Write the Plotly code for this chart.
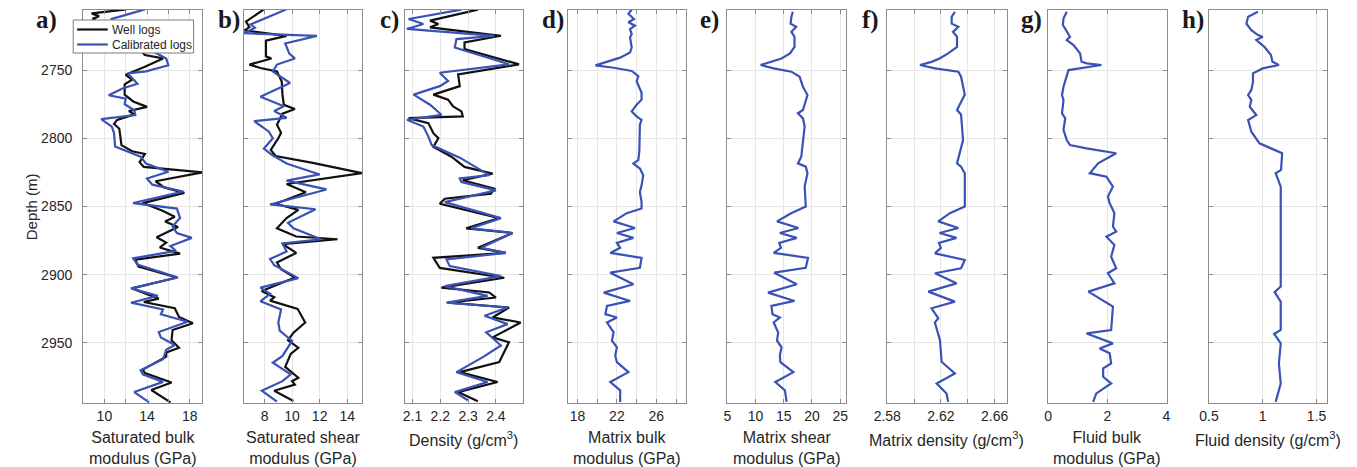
import plotly.graph_objects as go

# ---------------- Log data (depth in m) ----------------
# a) Saturated bulk modulus (GPa)
sat_bulk_well_depth = [2705.5, 2708.5, 2710.5, 2712.5, 2718, 2725, 2732, 2739, 2741.5, 2747.5, 2753.5, 2757,
                       2760.5, 2768, 2773, 2777, 2780, 2782.5, 2786.5, 2789.5, 2793, 2799, 2805, 2809.5,
                       2811.5, 2817.5, 2821, 2825, 2831.5, 2836, 2840, 2847.5, 2853, 2857.5, 2861, 2865,
                       2872.5, 2876.5, 2880, 2884.5, 2889, 2894, 2898, 2902, 2910, 2916, 2917.5, 2920,
                       2924.5, 2931, 2935.5, 2940.5, 2948, 2953.5, 2957, 2960, 2969.5, 2972, 2979,
                       2984.5, 2993.5]
sat_bulk_well = [12.1, 8.8, 9.5, 8.9, 10.0, 11.5, 13.0, 13.8, 15.5, 13.8, 12.0, 12.6,
                 11.9, 11.9, 12.7, 14.0, 12.3, 12.8, 11.2, 10.9, 11.4, 11.5, 11.6, 12.6,
                 13.8, 13.3, 13.7, 19.2, 14.8, 15.6, 17.5, 13.6, 15.4, 16.6, 15.7, 16.9,
                 14.9, 15.8, 15.2, 17.1, 12.9, 13.2, 15.0, 16.8, 12.6, 14.7, 15.1, 13.7,
                 16.6, 17.0, 18.3, 16.4, 16.3, 17.0, 15.8, 15.8, 13.6, 13.8, 16.3,
                 14.4, 16.2]
sat_bulk_cal_depth = [2705.5, 2712.5, 2720, 2728, 2736, 2741.5, 2746.5, 2751, 2752.5, 2760, 2763.5, 2768.5,
                      2771, 2775, 2779.5, 2783, 2786, 2791.5, 2796, 2806, 2813.5, 2818.5, 2824.5, 2829.5,
                      2834, 2839, 2847.5, 2851.5, 2858.5, 2864.5, 2869.5, 2873, 2879, 2882.5, 2888,
                      2892.5, 2902, 2910, 2915.5, 2920.5, 2925.5, 2929, 2934.5, 2942, 2946, 2951.5,
                      2955, 2962, 2970, 2973, 2978.5, 2986, 2993.5]
sat_bulk_cal = [13.8, 10.7, 11.5, 13.0, 14.5, 15.8, 16.0, 13.9, 12.2, 13.1, 11.7, 10.4,
                12.0, 11.9, 12.8, 12.9, 9.7, 10.7, 10.9, 11.0, 13.4, 13.9, 16.0, 14.0,
                14.5, 17.4, 12.7, 16.8, 17.1, 16.4, 16.8, 18.2, 16.2, 16.7, 12.7,
                13.1, 16.9, 12.5, 15.0, 12.5, 15.5, 15.3, 17.8, 15.1, 15.3, 16.6,
                15.8, 15.5, 13.4, 13.6, 15.5, 12.8, 14.2]

# b) Saturated shear modulus (GPa)
sat_shear_well_depth = [2705.5, 2714.5, 2718.5, 2721, 2725, 2728.5, 2740, 2741.5, 2746, 2748.5, 2751, 2758.5,
                        2768, 2775.5, 2778.5, 2782, 2790, 2796, 2800, 2808.5, 2813, 2818, 2825.5, 2833.5,
                        2839.5, 2848, 2852.5, 2858.5, 2866, 2872, 2874, 2877.5, 2884, 2891, 2896, 2902,
                        2912, 2916.5, 2919, 2925, 2935, 2942.5, 2948, 2953.5, 2958, 2967.5, 2975.5, 2978,
                        2980.5, 2985, 2992.5]
sat_shear_well = [7.95, 6.65, 6.9, 6.55, 9.6, 8.1, 8.1, 8.5, 6.9, 7.7, 8.9, 9.25,
                  9.3, 9.4, 10.2, 9.3, 8.9, 9.2, 9.0, 8.45, 8.8, 11.5, 15.07, 9.6,
                  11.0, 8.8, 10.45, 9.6, 8.9, 10.3, 13.3, 9.3, 10.3, 8.9, 9.2, 10.2,
                  7.8, 8.7, 8.4, 10.4, 10.95, 10.1, 9.7, 10.45, 9.9, 9.5, 10.45, 10.0,
                  10.2, 8.7, 10.1]
sat_shear_cal_depth = [2705.5, 2716.5, 2719, 2723, 2725, 2730.5, 2738, 2741.5, 2746, 2751, 2759.5, 2769.5,
                       2776.5, 2780, 2785, 2787.5, 2795, 2800, 2807.5, 2812, 2818.5, 2826.5, 2831, 2837.5,
                       2848.5, 2852, 2862, 2866, 2874, 2877, 2883, 2888.5, 2893, 2902.5, 2909.5, 2914,
                       2919.5, 2925.5, 2935, 2941, 2948.5, 2953, 2959.5, 2964.5, 2973, 2978, 2985, 2993]
sat_shear_cal = [9.6, 7.0, 7.3, 6.5, 11.8, 9.5, 9.8, 10.2, 8.9, 8.6, 9.85, 7.7,
                 9.4, 8.7, 9.6, 7.25, 8.3, 8.6, 7.95, 8.5, 9.6, 12.0, 9.6, 12.5,
                 8.4, 11.7, 9.7, 10.1, 12.1, 9.3, 9.6, 8.4, 8.7, 10.45, 7.7, 8.4,
                 7.7, 9.2, 9.0, 9.1, 10.0, 9.7, 9.3, 8.6, 9.9, 9.3, 7.8, 8.9]

# c) Density (g/cm3)
density_well_depth = [2705.7, 2713.8, 2716.3, 2718.7, 2724.9, 2729.8, 2734.7, 2745.8, 2753.2, 2761.8, 2768,
                      2771.7, 2776.6, 2780.3, 2784, 2785.2, 2788.9, 2796.3, 2800, 2806.2, 2813.5, 2821,
                      2825.9, 2830.8, 2836.9, 2840.6, 2844.3, 2848, 2858.5, 2866, 2869.4, 2880.3, 2884,
                      2887.6, 2895, 2902.2, 2909.5, 2913, 2916.7, 2920.4, 2924, 2931.3, 2935, 2945.9,
                      2949.5, 2964, 2971.4, 2978.6, 2986, 2992.7]
density_well = [2.335, 2.163, 2.193, 2.163, 2.418, 2.287, 2.287, 2.483, 2.264, 2.27, 2.175,
                2.228, 2.246, 2.276, 2.281, 2.086, 2.157, 2.175, 2.193, 2.175, 2.24, 2.287,
                2.388, 2.281, 2.394, 2.382, 2.216, 2.198, 2.412, 2.293, 2.46, 2.335, 2.436,
                2.175, 2.198, 2.43, 2.204, 2.376, 2.4, 2.228, 2.447, 2.388, 2.489, 2.388,
                2.447, 2.412, 2.27, 2.406, 2.264, 2.335]
density_cal_depth = [2705.7, 2712.6, 2716.3, 2719.9, 2724.9, 2727.3, 2733.5, 2745.8, 2752, 2758, 2761.8,
                     2768, 2775.4, 2782.8, 2786.5, 2791.4, 2798.8, 2805, 2814.2, 2827, 2829.5, 2832,
                     2838.2, 2846.8, 2858.5, 2866, 2869.4, 2880.3, 2884, 2888.8, 2893.7, 2901, 2908.3,
                     2915.5, 2920.4, 2924, 2930, 2936.2, 2942.2, 2951.9, 2960.4, 2971.4, 2978.6, 2986,
                     2992]
density_cal = [2.276, 2.086, 2.139, 2.08, 2.394, 2.258, 2.252, 2.447, 2.198, 2.228, 2.198,
               2.104, 2.163, 2.204, 2.08, 2.139, 2.157, 2.169, 2.27, 2.376, 2.27, 2.276,
               2.4, 2.216, 2.418, 2.311, 2.46, 2.347, 2.436, 2.222, 2.234, 2.418, 2.216,
               2.37, 2.222, 2.442, 2.359, 2.442, 2.365, 2.418, 2.353, 2.258, 2.37, 2.252,
               2.299]

# d) Matrix bulk modulus (GPa)
matrix_bulk_depth = [2705.7, 2708.9, 2712.6, 2715, 2717.5, 2720, 2723.6, 2726.1, 2733.5, 2737.2, 2740.9,
                     2743.3, 2746.6, 2748.3, 2750.7, 2754.4, 2758.1, 2766.7, 2771.7, 2775.4, 2780.3,
                     2784, 2786.5, 2790.1, 2800, 2809.9, 2816, 2818.5, 2822.2, 2827.1, 2834.5, 2839.4,
                     2846.8, 2851.5, 2854.9, 2860.9, 2865.8, 2869.4, 2873, 2876.7, 2880.3, 2884, 2887.6,
                     2894.9, 2898.5, 2907, 2913.1, 2919.2, 2922.8, 2928.9, 2931.3, 2935, 2942.2, 2948.3,
                     2953.2, 2959.2, 2964.1, 2971.4, 2978.6, 2984.7, 2993.2]
matrix_bulk = [23.5, 23.17, 23.73, 23.17, 23.83, 23.33, 23.5, 23.33, 23.5, 23.33, 22.33,
               21.33, 19.83, 21.67, 23.5, 24.17, 24.0, 24.5, 24.5, 24.0, 23.5,
               24.0, 24.5, 24.33, 24.33, 24.27, 24.17, 23.67, 24.33, 24.67, 24.5, 24.33,
               24.5, 24.5, 23.0, 21.67, 23.83, 22.0, 23.67, 22.0, 22.33, 21.33, 24.5,
               24.33, 21.33, 23.67, 20.67, 23.33, 21.0, 20.83, 22.0, 21.0, 21.67, 21.5,
               22.0, 21.83, 22.0, 23.17, 21.33, 22.33, 22.33]

# e) Matrix shear modulus (GPa)
matrix_shear_depth = [2707.3, 2711, 2716, 2718.3, 2722, 2725.6, 2733, 2737.8, 2741.5, 2744, 2746.3,
                      2748.8, 2751.2, 2754.9, 2762.2, 2768.3, 2779.3, 2781.7, 2785.4, 2791.5, 2801.3,
                      2813.5, 2818.4, 2820.8, 2825.6, 2835.4, 2850, 2854.9, 2860.9, 2865.8, 2869.4,
                      2873, 2876.7, 2880.3, 2884, 2887.6, 2894.9, 2898.5, 2907, 2913.1, 2919.2, 2922.8,
                      2928.9, 2931.3, 2935, 2942.2, 2948.3, 2953.2, 2959.2, 2964.1, 2971.4, 2978.6,
                      2984.7, 2993.2]
matrix_shear = [16.6, 16.35, 16.2, 17.2, 16.35, 16.9, 16.9, 16.1, 14.6, 12.6, 10.9,
                13.2, 16.35, 17.8, 18.4, 19.2, 18.4, 17.5, 18.4, 18.7, 18.4,
                18.1, 17.5, 18.9, 19.2, 18.7, 18.9, 16.3, 13.8, 17.6, 14.3,
                17.3, 14.2, 14.5, 13.2, 19.3, 18.9, 13.3, 17.3, 12.2, 16.9, 12.8,
                13.0, 14.3, 13.2, 14.0, 13.8, 14.6, 14.3, 14.4, 16.7, 13.5,
                15.2, 15.5]

# f) Matrix density (g/cm3)
matrix_density_depth = [2707.3, 2711, 2716, 2718.3, 2722, 2725.6, 2733, 2737.8, 2741.5, 2744, 2746.3,
                        2748.8, 2751.2, 2754.9, 2768, 2779.3, 2782.5, 2801.3, 2818.4, 2820.8, 2825.6,
                        2835.4, 2850, 2854.9, 2860.9, 2865.8, 2869.4, 2873, 2876.7, 2880.3, 2884.3,
                        2889.2, 2895.3, 2898.9, 2906.3, 2912.4, 2919.7, 2924.6, 2931.9, 2935, 2948,
                        2963.8, 2972.4, 2979.7, 2987, 2993.2]
matrix_density = [2.6304, 2.628, 2.628, 2.633, 2.629, 2.632, 2.632, 2.6254, 2.619, 2.613, 2.6044,
                  2.6156, 2.633, 2.635, 2.6378, 2.632, 2.635, 2.6365, 2.632, 2.635, 2.6378,
                  2.6378, 2.6378, 2.6267, 2.618, 2.633, 2.619, 2.6316, 2.6185, 2.62, 2.6156,
                  2.6378, 2.635, 2.6156, 2.6316, 2.6106, 2.6304, 2.613, 2.618, 2.6155, 2.6193,
                  2.6205, 2.6304, 2.6168, 2.6242, 2.6254]

# g) Fluid bulk modulus (GPa)
fluid_bulk_depth = [2707.3, 2712.2, 2717, 2725.6, 2728, 2731.7, 2737.8, 2743.9, 2745.1, 2746.3, 2750,
                    2762.2, 2768.3, 2772, 2781.7, 2785.4, 2793.9, 2801.3, 2805, 2807.4, 2811, 2818.4,
                    2825.6, 2828.1, 2835.4, 2842.7, 2847.6, 2854.9, 2864.7, 2868.4, 2872.1, 2878.2,
                    2886.7, 2895.3, 2898.9, 2906.3, 2912.4, 2923.4, 2940.5, 2943, 2950.3, 2954,
                    2957.6, 2965, 2968.6, 2974.8, 2979.7, 2987, 2993.2]
fluid_bulk = [0.63, 0.52, 0.5, 0.74, 0.63, 0.86, 1.08, 1.13, 1.3, 1.8, 0.69,
              0.52, 0.47, 0.52, 0.47, 0.58, 0.52, 0.63, 0.74, 1.3, 2.3, 1.69,
              1.41, 1.97, 2.19, 2.02, 2.08, 2.24, 2.19, 2.3, 1.97, 2.24,
              2.13, 2.3, 2.02, 2.24, 1.36, 2.19, 2.13, 1.3, 2.19, 1.74,
              2.08, 2.13, 1.86, 1.86, 2.13, 1.63, 1.52]

# h) Fluid density (g/cm3)
fluid_density_depth = [2707.3, 2711, 2716, 2720.8, 2724.4, 2725.6, 2728, 2733, 2739, 2743.9, 2746.3,
                       2748.8, 2752.4, 2758.5, 2764.6, 2768.3, 2772, 2776.9, 2783, 2786.6, 2795.2,
                       2803.7, 2807.4, 2811, 2823.2, 2825.6, 2835.4, 2857.3, 2873.3, 2908.7, 2912.8,
                       2919.7, 2940.5, 2943.4, 2950.3, 2965, 2979.7, 2993.2]
fluid_density = [0.955, 0.864, 0.848, 0.894, 0.955, 1.0, 0.94, 1.015, 1.076, 1.09, 1.15,
                 1.0, 0.909, 0.909, 0.894, 0.864, 0.894, 0.879, 0.94, 0.864, 0.894,
                 0.97, 1.076, 1.18, 1.17, 1.12, 1.167, 1.167, 1.167, 1.167, 1.11,
                 1.167, 1.167, 1.106, 1.167, 1.15, 1.167, 1.12]

# ---------------- Axis set-up ----------------
depth_range = [2994, 2706]
depth_ticks = [2750, 2800, 2850, 2900, 2950]

panel_labels = ["a)", "b)", "c)", "d)", "e)", "f)", "g)", "h)"]
panel_titles = ["Saturated bulk<br>modulus (GPa)", "Saturated shear<br>modulus (GPa)",
                "Density (g/cm<sup>3</sup>)", "Matrix bulk<br>modulus (GPa)",
                "Matrix shear<br>modulus (GPa)", "Matrix density (g/cm<sup>3</sup>)",
                "Fluid bulk<br>modulus (GPa)", "Fluid density (g/cm<sup>3</sup>)"]
x_ranges = [[8, 19.2], [6.5, 15.1], [2.072, 2.498], [17, 29], [5, 26], [2.58, 2.669], [0, 4], [0.5, 1.6]]
x_tickvals = [[10, 12, 14, 16, 18], [8, 10, 12, 14], [2.1, 2.2, 2.3, 2.4], [18, 20, 22, 24, 26, 28],
              [5, 10, 15, 20, 25], [2.58, 2.60, 2.62, 2.64, 2.66], [0, 2, 4], [0.5, 1, 1.5]]
x_ticktext = [["10", "", "14", "", "18"], ["8", "10", "12", "14"], ["2.1", "2.2", "2.3", "2.4"],
              ["18", "", "22", "", "26", ""], ["5", "10", "15", "20", "25"],
              ["2.58", "", "2.62", "", "2.66"], ["0", "2", "4"], ["0.5", "1", "1.5"]]

legend_names = ["Well logs", "Calibrated logs"]

# panel left/right edges in pixels of a 1357 px wide canvas
W, H = 1357, 467
panel_px = [(70, 191), (233, 353), (396, 516), (561, 681), (723, 843), (885, 1006), (1048, 1168), (1211, 1331)]
label_right_px = [46, 231, 392, 559, 717, 879, 1044, 1208]
y_dom = [1 - 403 / H, 1 - 10 / H]

WELL_COLOR = "#111111"
CAL_COLOR = "#3a51b6"
AXIS_COLOR = "#8c8c8c"
GRID_COLOR = "#e6e6e6"
TEXT_COLOR = "#262626"
SANS = "Liberation Sans, Arial, sans-serif"
SERIF = "Liberation Serif, Times New Roman, serif"


def px_x(p):
    return p / W


def px_y(p):
    return 1 - p / H


fig = go.Figure()

# measured vs calibrated curves
two_curve_panels = [
    (sat_bulk_well_depth, sat_bulk_well, sat_bulk_cal_depth, sat_bulk_cal),
    (sat_shear_well_depth, sat_shear_well, sat_shear_cal_depth, sat_shear_cal),
    (density_well_depth, density_well, density_cal_depth, density_cal),
]
for i, (wd, wv, cd, cv) in enumerate(two_curve_panels):
    n = i + 1
    xa = "x" if n == 1 else f"x{n}"
    ya = "y" if n == 1 else f"y{n}"
    fig.add_trace(go.Scatter(x=wv, y=wd, mode="lines", name=legend_names[0],
                             line=dict(color=WELL_COLOR, width=2.2),
                             xaxis=xa, yaxis=ya, showlegend=False))
    fig.add_trace(go.Scatter(x=cv, y=cd, mode="lines", name=legend_names[1],
                             line=dict(color=CAL_COLOR, width=2.2),
                             xaxis=xa, yaxis=ya, showlegend=False))

# inverted rock/fluid properties
single_curve_panels = [
    (matrix_bulk_depth, matrix_bulk),
    (matrix_shear_depth, matrix_shear),
    (matrix_density_depth, matrix_density),
    (fluid_bulk_depth, fluid_bulk),
    (fluid_density_depth, fluid_density),
]
for i, (d, v) in enumerate(single_curve_panels):
    n = i + 4
    fig.add_trace(go.Scatter(x=v, y=d, mode="lines", showlegend=False,
                             line=dict(color=CAL_COLOR, width=2.2),
                             xaxis=f"x{n}", yaxis=f"y{n}"))

layout = dict(
    width=W, height=H, margin=dict(l=0, r=0, t=0, b=0),
    paper_bgcolor="white", plot_bgcolor="white",
    showlegend=False,
)

annotations = []
for i in range(8):
    n = i + 1
    sfx = "" if n == 1 else str(n)
    x0, x1 = panel_px[i]
    layout[f"xaxis{sfx}"] = dict(
        domain=[px_x(x0), px_x(x1)], range=x_ranges[i], anchor=f"y{sfx}",
        tickmode="array", tickvals=x_tickvals[i], ticktext=x_ticktext[i],
        showline=True, mirror="ticks", linecolor=AXIS_COLOR, linewidth=1,
        ticks="inside", ticklen=4, tickcolor=AXIS_COLOR,
        showgrid=True, gridcolor=GRID_COLOR, gridwidth=1, zeroline=False,
        tickfont=dict(family=SANS, size=14, color=TEXT_COLOR),
    )
    layout[f"yaxis{sfx}"] = dict(
        domain=y_dom, range=depth_range, anchor=f"x{sfx}",
        tickmode="array", tickvals=depth_ticks, showticklabels=(n == 1),
        showline=True, mirror="ticks", linecolor=AXIS_COLOR, linewidth=1,
        ticks="inside", ticklen=4, tickcolor=AXIS_COLOR, ticklabelstandoff=7,
        showgrid=True, gridcolor=GRID_COLOR, gridwidth=1, zeroline=False,
        tickfont=dict(family=SANS, size=14, color=TEXT_COLOR),
    )
    annotations.append(dict(
        text=panel_titles[i], xref="paper", yref="paper",
        x=px_x((x0 + x1) / 2), y=px_y(427), xanchor="center", yanchor="top",
        showarrow=False, font=dict(family=SANS, size=16, color=TEXT_COLOR),
    ))
    annotations.append(dict(
        text=f"<b>{panel_labels[i]}</b>", xref="paper", yref="paper",
        x=px_x(label_right_px[i]), y=px_y(20), xanchor="right", yanchor="middle",
        showarrow=False, font=dict(family=SERIF, size=25, color="#1a1a1a"),
    ))

annotations.append(dict(
    text="Depth (m)", xref="paper", yref="paper", x=px_x(18), y=(y_dom[0] + y_dom[1]) / 2,
    xanchor="center", yanchor="middle", textangle=-90, showarrow=False,
    font=dict(family=SANS, size=15, color=TEXT_COLOR),
))

# legend box in the top-left corner of panel a
shapes = [dict(type="rect", xref="paper", yref="paper", layer="above",
               x0=px_x(60), x1=px_x(182), y0=px_y(53), y1=px_y(20),
               fillcolor="white", line=dict(color="#7a7a7a", width=1))]
for k, (name, color) in enumerate(zip(legend_names, [WELL_COLOR, CAL_COLOR])):
    yc = 29.5 + 15 * k
    shapes.append(dict(type="line", xref="paper", yref="paper", layer="above",
                       x0=px_x(64), x1=px_x(95), y0=px_y(yc), y1=px_y(yc),
                       line=dict(color=color, width=2.2)))
    annotations.append(dict(text=name, xref="paper", yref="paper",
                            x=px_x(97), y=px_y(yc), xanchor="left", yanchor="middle",
                            showarrow=False, font=dict(family=SANS, size=12, color=TEXT_COLOR)))

layout["annotations"] = annotations
layout["shapes"] = shapes

fig.update_layout(**layout)
fig.write_html("out.html")
